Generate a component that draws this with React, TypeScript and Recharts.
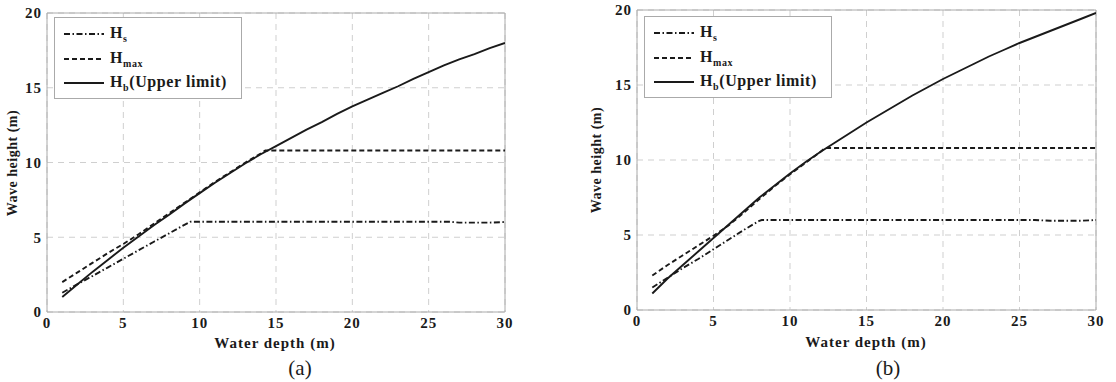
import React from 'react';
import {
  LineChart, Line, XAxis, YAxis, CartesianGrid, ReferenceLine, Legend
} from 'recharts';

// water depth (m) shared by the breaking-limit curves
const depth = [1, 2, 3, 4, 5, 6, 7, 8, 9, 10, 11, 12, 13, 14, 15, 16, 17, 18, 19, 20, 21, 22, 23, 24, 25, 26, 27, 28, 29, 30];

// panel (a)
const hbA = [1.0, 1.85, 2.7, 3.5, 4.3, 5.05, 5.8, 6.5, 7.25, 7.95, 8.65, 9.3, 9.95, 10.55, 11.1, 11.65, 12.2, 12.7, 13.25, 13.75, 14.2, 14.65, 15.1, 15.6, 16.05, 16.5, 16.9, 17.25, 17.65, 18.0];
const hmaxDepthA = [1, 2, 3, 4, 5, 6, 7, 8, 9, 10, 11, 12, 13, 14, 14.3, 20, 25, 30];
const hmaxA = [2.0, 2.65, 3.3, 3.95, 4.55, 5.2, 5.9, 6.6, 7.3, 8.0, 8.7, 9.35, 10.0, 10.6, 10.8, 10.8, 10.8, 10.8];
const hsDepthA = [1, 2, 3, 4, 5, 6, 7, 8, 9, 9.4, 15, 20, 26.4, 27, 29, 30];
const hsA = [1.29, 1.86, 2.42, 2.99, 3.56, 4.13, 4.7, 5.26, 5.83, 6.04, 6.04, 6.04, 6.04, 5.98, 5.98, 6.02];

// panel (b)
const hbB = [1.1, 2.1, 3.0, 3.9, 4.8, 5.7, 6.6, 7.5, 8.3, 9.1, 9.85, 10.55, 11.2, 11.85, 12.5, 13.1, 13.7, 14.3, 14.85, 15.4, 15.9, 16.4, 16.9, 17.35, 17.8, 18.2, 18.6, 19.0, 19.4, 19.8];
const hmaxDepthB = [1, 2, 3, 4, 5, 6, 7, 8, 9, 10, 11, 12, 12.3, 20, 25, 30];
const hmaxB = [2.3, 3.0, 3.65, 4.3, 4.95, 5.65, 6.5, 7.4, 8.25, 9.05, 9.8, 10.55, 10.8, 10.8, 10.8, 10.8];
const hsDepthB = [1, 2, 3, 4, 5, 6, 7, 8, 8.15, 15, 20, 26, 27, 29, 30];
const hsB = [1.5, 2.15, 2.8, 3.4, 4.05, 4.7, 5.35, 5.95, 6.0, 6.0, 6.0, 6.0, 5.95, 5.95, 6.0];

const xTicks = [0, 5, 10, 15, 20, 25, 30];
const yTicks = [0, 5, 10, 15, 20];

const FONT = '"Liberation Serif", "Times New Roman", serif';
const GRID = '#cfcfcf';
const FRAME = '#aaaaaa';
const INK = '#1a1a1a';

const SERIES = [
  { key: 'hs', main: 'H', sub: 's', rest: '', dash: '6 2.5 1.5 2.5' },
  { key: 'hmax', main: 'H', sub: 'max', rest: '', dash: '5 3' },
  { key: 'hb', main: 'H', sub: 'b', rest: '(Upper limit)', dash: undefined },
];

const toPts = (xs: number[], ys: number[]) => xs.map((x, i) => ({ x, y: ys[i] }));

const LegendBox = () => (
  <div style={{
    width: 186, height: 76, border: `1px solid ${FRAME}`, background: '#fff',
    fontFamily: FONT, fontWeight: 'bold', color: INK, paddingTop: 4, boxSizing: 'content-box'
  }}>
    {SERIES.map(s => (
      <div key={s.key} style={{ display: 'flex', alignItems: 'center', height: 24.5, paddingLeft: 9 }}>
        <svg width={40} height={6} style={{ marginRight: 6 }}>
          <line x1={0} y1={3} x2={40} y2={3} stroke={INK} strokeWidth={1.8} strokeDasharray={s.dash} />
        </svg>
        <span style={{ fontSize: 16, letterSpacing: 0.6 }}>
          {s.main}<sub style={{ fontSize: 10 }}>{s.sub}</sub>{s.rest}
        </span>
      </div>
    ))}
  </div>
);

interface PanelProps {
  left: number;
  width: number;
  margin: { top: number; right: number; bottom: number; left: number };
  hb: number[];
  hmaxDepth: number[];
  hmax: number[];
  hsDepth: number[];
  hs: number[];
  legendPos: { left: number; top: number };
}

const Panel: React.FC<PanelProps> = ({ left, width, margin, hb, hmaxDepth, hmax, hsDepth, hs, legendPos }) => {
  const tickStyle = { fontFamily: FONT, fontWeight: 'bold', fontSize: 15, fill: INK, letterSpacing: 1 };
  return (
    <div style={{ position: 'absolute', left, top: 0 }}>
      <LineChart width={width} height={382} margin={margin}>
        <CartesianGrid stroke={GRID} strokeDasharray="6 5" />
        <XAxis type="number" dataKey="x" domain={[0, 30]} ticks={xTicks} allowDataOverflow
          tick={tickStyle} tickLine={false} tickSize={3} tickMargin={2} height={30}
          axisLine={{ stroke: FRAME }} />
        <YAxis type="number" domain={[0, 20]} ticks={yTicks} allowDataOverflow
          tick={tickStyle} tickLine={false} tickSize={3} tickMargin={2} width={30}
          axisLine={{ stroke: FRAME }} />
        <ReferenceLine x={30} stroke={FRAME} />
        <ReferenceLine y={20} stroke={FRAME} />
        <Line data={toPts(hsDepth, hs)} dataKey="y" name="Hs" stroke={INK} strokeWidth={1.9}
          strokeDasharray="6 2.5 1.5 2.5" dot={false} isAnimationActive={false} />
        <Line data={toPts(hmaxDepth, hmax)} dataKey="y" name="Hmax" stroke={INK} strokeWidth={1.9}
          strokeDasharray="5 3" dot={false} isAnimationActive={false} />
        <Line data={toPts(depth, hb)} dataKey="y" name="Hb" stroke={INK} strokeWidth={1.9}
          dot={false} isAnimationActive={false} />
        <Legend layout="horizontal" verticalAlign="middle" align="center" content={() => <LegendBox />}
          wrapperStyle={{ left: legendPos.left, top: legendPos.top, width: 'auto' }} />
      </LineChart>
    </div>
  );
};

const textBase: React.CSSProperties = {
  position: 'absolute', fontFamily: FONT, color: INK, whiteSpace: 'nowrap', lineHeight: 1
};

export default function App() {
  return (
    <div style={{ position: 'absolute', left: 0, top: 0, width: 1116, height: 382, background: '#fff', overflow: 'hidden' }}>
      <Panel left={0} width={540} margin={{ top: 13, right: 35, bottom: 40, left: 17 }}
        hb={hbA} hmaxDepth={hmaxDepthA} hmax={hmaxA} hsDepth={hsDepthA} hs={hsA}
        legendPos={{ left: 54, top: 17 }} />
      <Panel left={560} width={556} margin={{ top: 10, right: 20, bottom: 42, left: 47 }}
        hb={hbB} hmaxDepth={hmaxDepthB} hmax={hmaxB} hsDepth={hsDepthB} hs={hsB}
        legendPos={{ left: 84, top: 16 }} />

      {/* axis titles and panel captions */}
      <div style={{ ...textBase, left: 275, top: 343, transform: 'translate(-50%, -50%)', fontSize: 15, fontWeight: 'bold', letterSpacing: 1 }}>Water depth (m)</div>
      <div style={{ ...textBase, left: 13, top: 163, transform: 'translate(-50%, -50%) rotate(-90deg)', fontSize: 14, fontWeight: 'bold', letterSpacing: 0.5 }}>Wave height (m)</div>
      <div style={{ ...textBase, left: 300, top: 368, transform: 'translate(-50%, -50%)', fontSize: 21 }}>(a)</div>

      <div style={{ ...textBase, left: 866, top: 342, transform: 'translate(-50%, -50%)', fontSize: 15, fontWeight: 'bold', letterSpacing: 1 }}>Water depth (m)</div>
      <div style={{ ...textBase, left: 597, top: 160, transform: 'translate(-50%, -50%) rotate(-90deg)', fontSize: 14, fontWeight: 'bold', letterSpacing: 0.5 }}>Wave height (m)</div>
      <div style={{ ...textBase, left: 888, top: 368, transform: 'translate(-50%, -50%)', fontSize: 21 }}>(b)</div>
    </div>
  );
}
